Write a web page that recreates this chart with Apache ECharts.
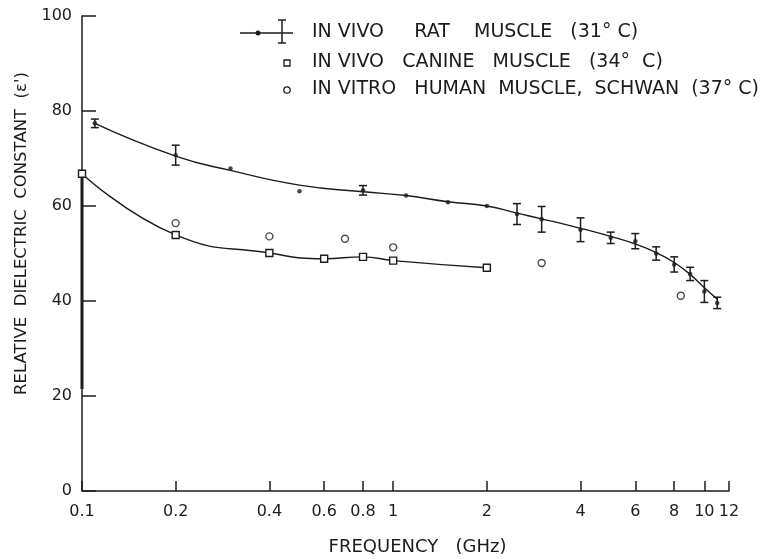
<!DOCTYPE html>
<html>
<head>
<meta charset="utf-8">
<title>Relative dielectric constant of muscle</title>
<script src="https://cdn.jsdelivr.net/npm/echarts@6/dist/echarts.min.js"></script>
<style>
  html, body { margin: 0; padding: 0; background: #fff; }
  #chart { width: 765px; height: 559px; }
</style>
</head>
<body>
<div id="chart"></div>
<script>
// frequency ticks (GHz)
const freqTicks = [0.1, 0.2, 0.4, 0.6, 0.8, 1, 2, 4, 6, 8, 10, 12];

// in vivo rat muscle (31 C) - measured points, error half-widths (0 = no bar)
const ratFreq = [0.11, 0.2, 0.3, 0.5, 0.8, 1.1, 1.5, 2, 2.5, 3, 4, 5, 6, 7, 8, 9, 10, 11];
const ratEps  = [77.4, 70.7, 67.9, 63.1, 63.3, 62.2, 60.8, 60.0, 58.3, 57.2, 55.0, 53.3, 52.6, 50.0, 47.7, 45.7, 42.0, 39.6];
const ratErr  = [0.9, 2.1, 0, 0, 1.0, 0, 0, 0, 2.2, 2.7, 2.5, 1.2, 1.6, 1.4, 1.6, 1.4, 2.3, 1.2];

// fitted curve through rat data
const ratFitFreq = [0.11, 0.2, 0.3, 0.5, 0.8, 1.1, 1.5, 2, 2.5, 3, 4, 5, 6, 7, 8, 9, 10, 11];
const ratFitEps  = [77.4, 70.5, 67.5, 64.4, 63.0, 62.2, 60.9, 60.0, 58.5, 57.3, 55.3, 53.6, 52.0, 50.2, 48.1, 45.6, 42.8, 40.4];

// in vivo canine muscle (34 C)
const canFreq = [0.1, 0.2, 0.4, 0.6, 0.8, 1, 2];
const canEps  = [66.8, 53.9, 50.1, 48.9, 49.3, 48.5, 47.0];

// in vitro human muscle, Schwan (37 C)
const humFreq = [0.2, 0.4, 0.7, 1, 3, 8.4];
const humEps  = [56.4, 53.6, 53.1, 51.3, 48.0, 41.1];

// heavy stretch of the eps axis in the original figure
const axisHeavyEps = [66.8, 21.5];

const ink = '#1c1c1c';
const font = 'DejaVu Sans';

const chart = echarts.init(document.getElementById('chart'), null, { renderer: 'canvas' });

const ratPoints = ratFreq.map((f, i) => [f, ratEps[i]]);
const ratBars = ratFreq
  .map((f, i) => [f, ratEps[i] - ratErr[i], ratEps[i] + ratErr[i], ratErr[i]])
  .filter(d => d[3] > 0);

const legendFont = '19px ' + font;

const option = {
  backgroundColor: '#fff',
  animation: false,
  grid: { left: 82, right: 36, top: 16, bottom: 68, outerBoundsMode: 'none' },
  xAxis: {
    type: 'log',
    logBase: 10,
    min: 0.1,
    max: 12,
    name: 'FREQUENCY   (GHz)',
    nameLocation: 'middle',
    nameGap: 47,
    nameTextStyle: { fontFamily: font, fontSize: 18, color: ink, padding: [0, 0, 0, 24] },
    axisLine: { lineStyle: { color: ink, width: 1.5 } },
    axisTick: { inside: true, length: 10, lineStyle: { color: ink, width: 1.5 }, customValues: freqTicks },
    axisLabel: {
      customValues: freqTicks,
      margin: 13,
      fontFamily: font, fontSize: 16, color: ink,
      formatter: v => String(v)
    },
    splitLine: { show: false },
    minorTick: { show: false }
  },
  yAxis: {
    type: 'value',
    min: 0,
    max: 100,
    interval: 20,
    name: "RELATIVE  DIELECTRIC  CONSTANT  (\u03b5')",
    nameLocation: 'middle',
    nameRotate: 90,
    nameGap: 52,
    nameTextStyle: { fontFamily: font, fontSize: 16.5, color: ink, padding: [0, 0, 0, 40] },
    axisLine: { show: true, lineStyle: { color: ink, width: 1.5 } },
    axisTick: { show: true, inside: true, length: 14, lineStyle: { color: ink, width: 1.5 } },
    axisLabel: { margin: 10, fontFamily: font, fontSize: 16, color: ink },
    splitLine: { show: false }
  },
  graphic: [
    // legend, row 1: rat
    { type: 'line', shape: { x1: 240, y1: 33, x2: 293, y2: 33 }, style: { stroke: ink, lineWidth: 1.3 } },
    { type: 'circle', shape: { cx: 258, cy: 33, r: 2.5 }, style: { fill: ink } },
    { type: 'line', shape: { x1: 282, y1: 20, x2: 282, y2: 43 }, style: { stroke: ink, lineWidth: 1.5 } },
    { type: 'line', shape: { x1: 278, y1: 20, x2: 286, y2: 20 }, style: { stroke: ink, lineWidth: 1.5 } },
    { type: 'line', shape: { x1: 278, y1: 43, x2: 286, y2: 43 }, style: { stroke: ink, lineWidth: 1.5 } },
    { type: 'text', left: 312, top: 23, style: { text: 'IN VIVO     RAT    MUSCLE   (31\u00b0 C)', font: legendFont, fill: ink } },
    // row 2: canine
    { type: 'rect', shape: { x: 284, y: 60, width: 6, height: 6 }, style: { fill: '#fff', stroke: ink, lineWidth: 1.3 } },
    { type: 'text', left: 312, top: 53, style: { text: 'IN VIVO   CANINE   MUSCLE   (34\u00b0  C)', font: legendFont, fill: ink } },
    // row 3: human
    { type: 'circle', shape: { cx: 287, cy: 90, r: 3.2 }, style: { fill: '#fff', stroke: ink, lineWidth: 1.3 } },
    { type: 'text', left: 312, top: 80, style: { text: 'IN VITRO   HUMAN  MUSCLE,  SCHWAN  (37\u00b0 C)', font: legendFont, fill: ink } }
  ],
  series: [
    {
      name: 'axis heavy',
      type: 'line',
      showSymbol: false,
      data: axisHeavyEps.map(v => [0.1, v]),
      lineStyle: { color: ink, width: 3 },
      silent: true,
      z: 1
    },
    {
      name: 'rat fit',
      type: 'line',
      smooth: 0.5,
      showSymbol: false,
      data: ratFitFreq.map((f, i) => [f, ratFitEps[i]]),
      lineStyle: { color: ink, width: 1.4 },
      z: 2
    },
    {
      name: 'IN VIVO RAT MUSCLE (31\u00b0 C)',
      type: 'scatter',
      symbol: 'circle',
      symbolSize: 4.5,
      data: ratPoints,
      itemStyle: { color: ink },
      z: 4
    },
    {
      name: 'rat error',
      type: 'custom',
      data: ratBars,
      renderItem(params, api) {
        const x = api.value(0);
        const lo = api.coord([x, api.value(1)]);
        const hi = api.coord([x, api.value(2)]);
        const w = 4;
        const st = { stroke: ink, lineWidth: 1.5 };
        return {
          type: 'group',
          children: [
            { type: 'line', shape: { x1: hi[0], y1: hi[1], x2: lo[0], y2: lo[1] }, style: st },
            { type: 'line', shape: { x1: hi[0] - w, y1: hi[1], x2: hi[0] + w, y2: hi[1] }, style: st },
            { type: 'line', shape: { x1: lo[0] - w, y1: lo[1], x2: lo[0] + w, y2: lo[1] }, style: st }
          ]
        };
      },
      z: 3
    },
    {
      name: 'IN VIVO CANINE MUSCLE (34\u00b0 C)',
      type: 'line',
      smooth: 0.5,
      data: canFreq.map((f, i) => [f, canEps[i]]),
      symbol: 'rect',
      symbolSize: 7,
      showAllSymbol: true,
      lineStyle: { color: ink, width: 1.4 },
      itemStyle: { color: '#fff', borderColor: ink, borderWidth: 1.4 },
      z: 4
    },
    {
      name: 'IN VITRO HUMAN MUSCLE, SCHWAN (37\u00b0 C)',
      type: 'scatter',
      symbol: 'circle',
      symbolSize: 7,
      data: humFreq.map((f, i) => [f, humEps[i]]),
      itemStyle: { color: '#fff', borderColor: ink, borderWidth: 1.4 },
      z: 4
    }
  ]
};

chart.setOption(option);
</script>
</body>
</html>
